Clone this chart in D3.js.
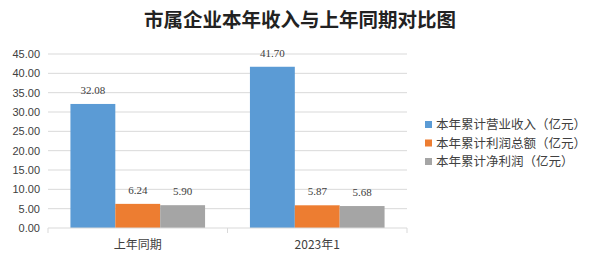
<!DOCTYPE html>
<html>
<head>
<meta charset="utf-8">
<script src="https://cdn.jsdelivr.net/npm/d3@7"></script>
<style>
  body { margin: 0; background: #fff; }
  svg { display: block; font-family: "Noto Sans CJK SC", "Liberation Sans", sans-serif; }
</style>
</head>
<body>
<div id="chart"></div>
<script>
var categories = ["上年同期", "2023年1"];
var seriesNames = ["本年累计营业收入（亿元）", "本年累计利润总额（亿元）", "本年累计净利润（亿元）"];
var revenue = [32.08, 41.70];
var profit = [6.24, 5.87];
var netProfit = [5.90, 5.68];
var yTicks = [0, 5, 10, 15, 20, 25, 30, 35, 40, 45];
var colors = ["#5B9BD5", "#ED7D31", "#A5A5A5"];

var series = [revenue, profit, netProfit];

var width = 600, height = 262;
var margin = {top: 54, left: 48, right: 193, bottom: 34};
var plotW = width - margin.left - margin.right,
    plotH = height - margin.top - margin.bottom;

var svg = d3.select("#chart").append("svg")
    .attr("width", width)
    .attr("height", height);

// title
svg.append("text")
    .attr("x", 300).attr("y", 27)
    .attr("text-anchor", "middle")
    .style("font-size", "19.5px")
    .style("font-weight", "bold")
    .style("fill", "#222")
    .text("市属企业本年收入与上年同期对比图");

var g = svg.append("g")
    .attr("transform", "translate(" + margin.left + "," + margin.top + ")");

var x0 = d3.scaleBand().domain(categories).range([0, plotW]).paddingInner(0.25).paddingOuter(0.125);
var x1 = d3.scaleBand().domain(d3.range(series.length)).range([0, x0.bandwidth()]);
var y = d3.scaleLinear().domain([0, 45]).range([plotH, 0]);

// gridlines
g.selectAll(".grid")
    .data(yTicks.slice(1))
  .enter().append("line")
    .attr("x1", 0).attr("x2", plotW)
    .attr("y1", function(d) { return y(d); })
    .attr("y2", function(d) { return y(d); })
    .style("stroke", "#d9d9d9")
    .style("stroke-width", 1);

// y labels
g.selectAll(".ylab")
    .data(yTicks)
  .enter().append("text")
    .attr("x", -8)
    .attr("y", function(d) { return y(d); })
    .attr("dy", "0.35em")
    .attr("text-anchor", "end")
    .style("font-size", "11px")
    .style("font-family", "Liberation Sans, sans-serif")
    .style("fill", "#404040")
    .text(function(d) { return d.toFixed(2); });

// bars + value labels
series.forEach(function(vals, i) {
  g.selectAll(".bar" + i)
      .data(vals)
    .enter().append("rect")
      .attr("x", function(d, j) { return x0(categories[j]) + x1(i); })
      .attr("y", function(d) { return y(d); })
      .attr("width", x1.bandwidth())
      .attr("height", function(d) { return plotH - y(d); })
      .style("fill", colors[i]);

  g.selectAll(".lab" + i)
      .data(vals)
    .enter().append("text")
      .attr("x", function(d, j) { return x0(categories[j]) + x1(i) + x1.bandwidth() / 2; })
      .attr("y", function(d) { return y(d) - 10; })
      .attr("text-anchor", "middle")
      .style("font-size", "11px")
      .style("font-family", "Liberation Serif, serif")
      .style("fill", "#404040")
      .text(function(d) { return d.toFixed(2); });
});

// x axis: baseline, category boundary ticks, labels
var xAxis = g.append("g").attr("transform", "translate(0," + plotH + ")");
xAxis.append("line")
    .attr("x1", 0).attr("x2", plotW)
    .style("stroke", "#d9d9d9");
xAxis.selectAll(".tick")
    .data(d3.range(categories.length + 1))
  .enter().append("line")
    .attr("x1", function(d) { return d * x0.step(); })
    .attr("x2", function(d) { return d * x0.step(); })
    .attr("y1", 0).attr("y2", 5)
    .style("stroke", "#d9d9d9");
xAxis.selectAll(".xlab")
    .data(categories)
  .enter().append("text")
    .attr("x", function(d) { return x0(d) + x0.bandwidth() / 2; })
    .attr("y", 21)
    .attr("text-anchor", "middle")
    .style("font-size", "12px")
    .style("fill", "#404040")
    .text(function(d) { return d; });

// legend
var legend = svg.append("g").attr("transform", "translate(425,125)");
seriesNames.forEach(function(name, i) {
  var row = legend.append("g").attr("transform", "translate(0," + i * 18.5 + ")");
  row.append("rect")
      .attr("x", 0).attr("y", -4)
      .attr("width", 7).attr("height", 7)
      .style("fill", colors[i]);
  row.append("text")
      .attr("x", 11).attr("y", 0)
      .attr("dy", "0.35em")
      .style("font-size", "12.5px")
      .style("fill", "#404040")
      .text(name);
});
</script>
</body>
</html>
